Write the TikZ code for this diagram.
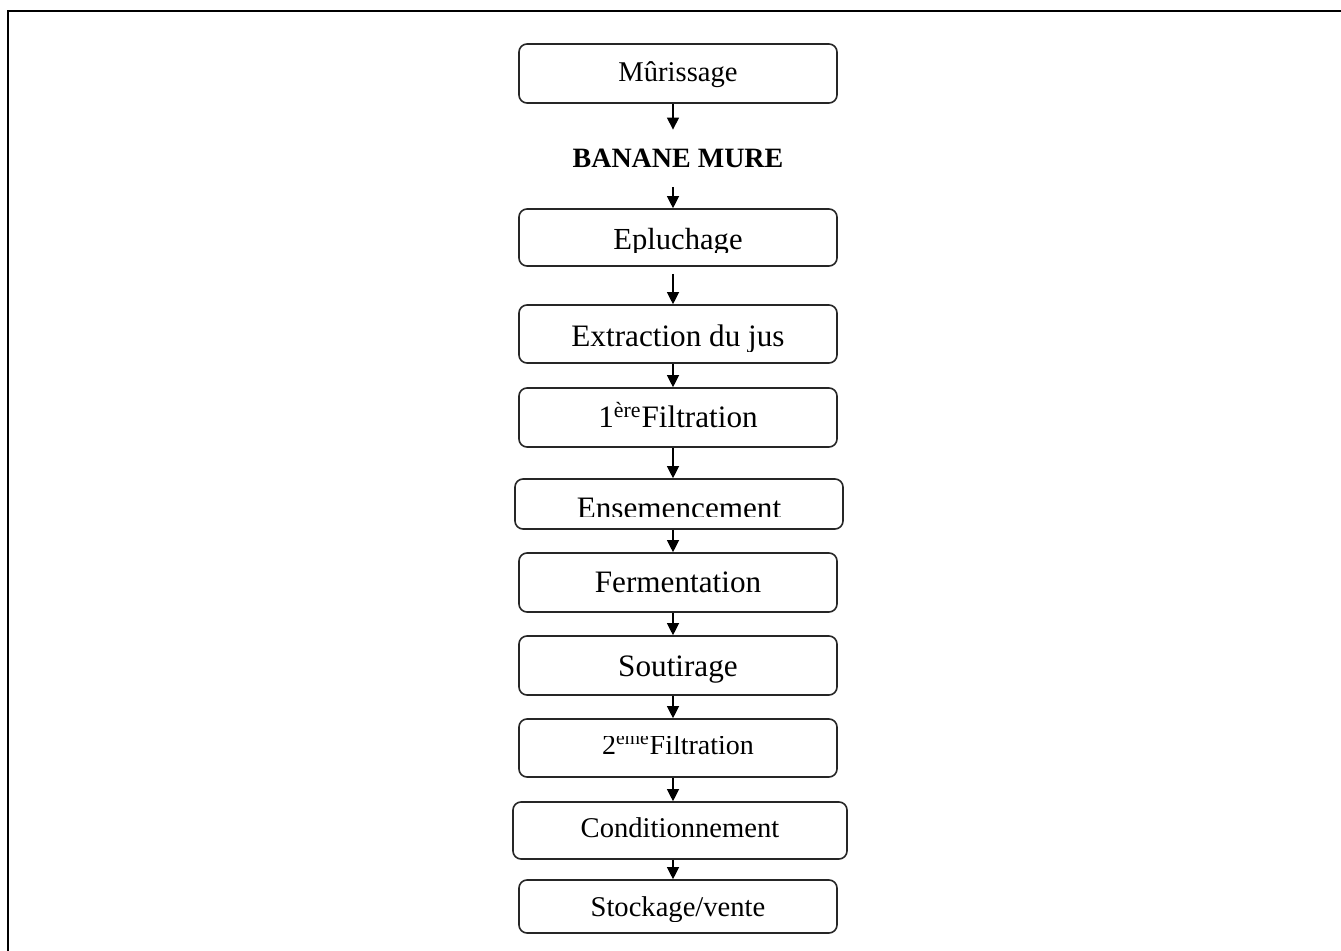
\documentclass[tikz,border=0pt]{standalone}
\usepackage{fontspec}
\setmainfont{Liberation Serif}
\usetikzlibrary{arrows.meta,fit}

% text sizes used in the boxes
\newcommand\sizeA{\fontsize{14.3pt}{16pt}\selectfont}
\newcommand\sizeB{\fontsize{15.6pt}{18pt}\selectfont}

% A process box: #1 name, #2..#5 left/top/right/bottom, #6 text baseline,
% #7/#8 top and bottom of the visible text band, #9 text
\newcommand\flowbox[9]{%
  \node[stepbox, fit={(#2,#3) (#4,#5)}] (#1) {};
  \begin{scope}
    \clip (#2,#7) rectangle (#4,#8);
    \node[steptext] (#1t) at ({(#2+#4)/2},#6) {#9};
  \end{scope}%
}

\begin{document}
\begin{tikzpicture}[x=0.5pt, y=-0.5pt,
  stepbox/.style={draw=black!85, line width=0.8pt, rounded corners=4pt,
    inner sep=0pt},
  steptext/.style={anchor=base, inner sep=0pt},
  arr/.style={draw=black, line width=0.6pt,
    -{Triangle[width=6pt,length=6pt]}}]
  \useasboundingbox (0,0) rectangle (1341,951);

  % open frame: left and top edges only
  \draw[line width=1pt] (8,951) -- (8,11) -- (1341,11);

  \flowbox{b1}{519}{44}{837}{103}{82}{44}{103}{\sizeA Mûrissage}
  \node[inner sep=0pt, minimum height=28.5pt,
    font=\fontsize{14pt}{16pt}\selectfont\bfseries] (m) at (678,158.5) {BANANE MURE};
  \flowbox{b2}{519}{209}{837}{266}{250}{209}{253}{\fontsize{15.3pt}{18pt}\selectfont Epluchage}
  \flowbox{b3}{519}{305}{837}{363}{347}{305}{352}{\sizeB Extraction du jus}
  \flowbox{b4}{519}{388}{837}{447}{428}{388}{447}{\sizeB 1\textsuperscript{ère}Filtration}
  \flowbox{b5}{515}{479}{843}{529}{519}{479}{517}{\sizeB Ensemencement}
  \flowbox{b6}{519}{553}{837}{612}{593}{553}{612}{\sizeB Fermentation}
  \flowbox{b7}{519}{636}{837}{695}{677}{636}{695}{\sizeB Soutirage}
  \flowbox{b8}{519}{719}{837}{777}{755}{737}{777}{\fontsize{14pt}{16pt}\selectfont 2\textsuperscript{ème}Filtration}
  \flowbox{b9}{513}{802}{847}{859}{838}{802}{859}{\sizeA Conditionnement}
  \flowbox{b10}{519}{880}{837}{933}{917}{880}{922}{\sizeA Stockage/vente}

  % connectors, all on one vertical line
  \coordinate (ax) at (673,0);
  \draw[arr] (b1.south -| ax) -- (m.north -| ax);
  \draw[arr] (m.south -| ax) -- (b2.north -| ax);
  \draw[arr, shorten <=3.5pt] (b2.south -| ax) -- (b3.north -| ax);
  \draw[arr] (b3.south -| ax) -- (b4.north -| ax);
  \draw[arr] (b4.south -| ax) -- (b5.north -| ax);
  \draw[arr] (b5.south -| ax) -- (b6.north -| ax);
  \draw[arr] (b6.south -| ax) -- (b7.north -| ax);
  \draw[arr] (b7.south -| ax) -- (b8.north -| ax);
  \draw[arr] (b8.south -| ax) -- (b9.north -| ax);
  \draw[arr] (b9.south -| ax) -- (b10.north -| ax);
\end{tikzpicture}
\end{document}
